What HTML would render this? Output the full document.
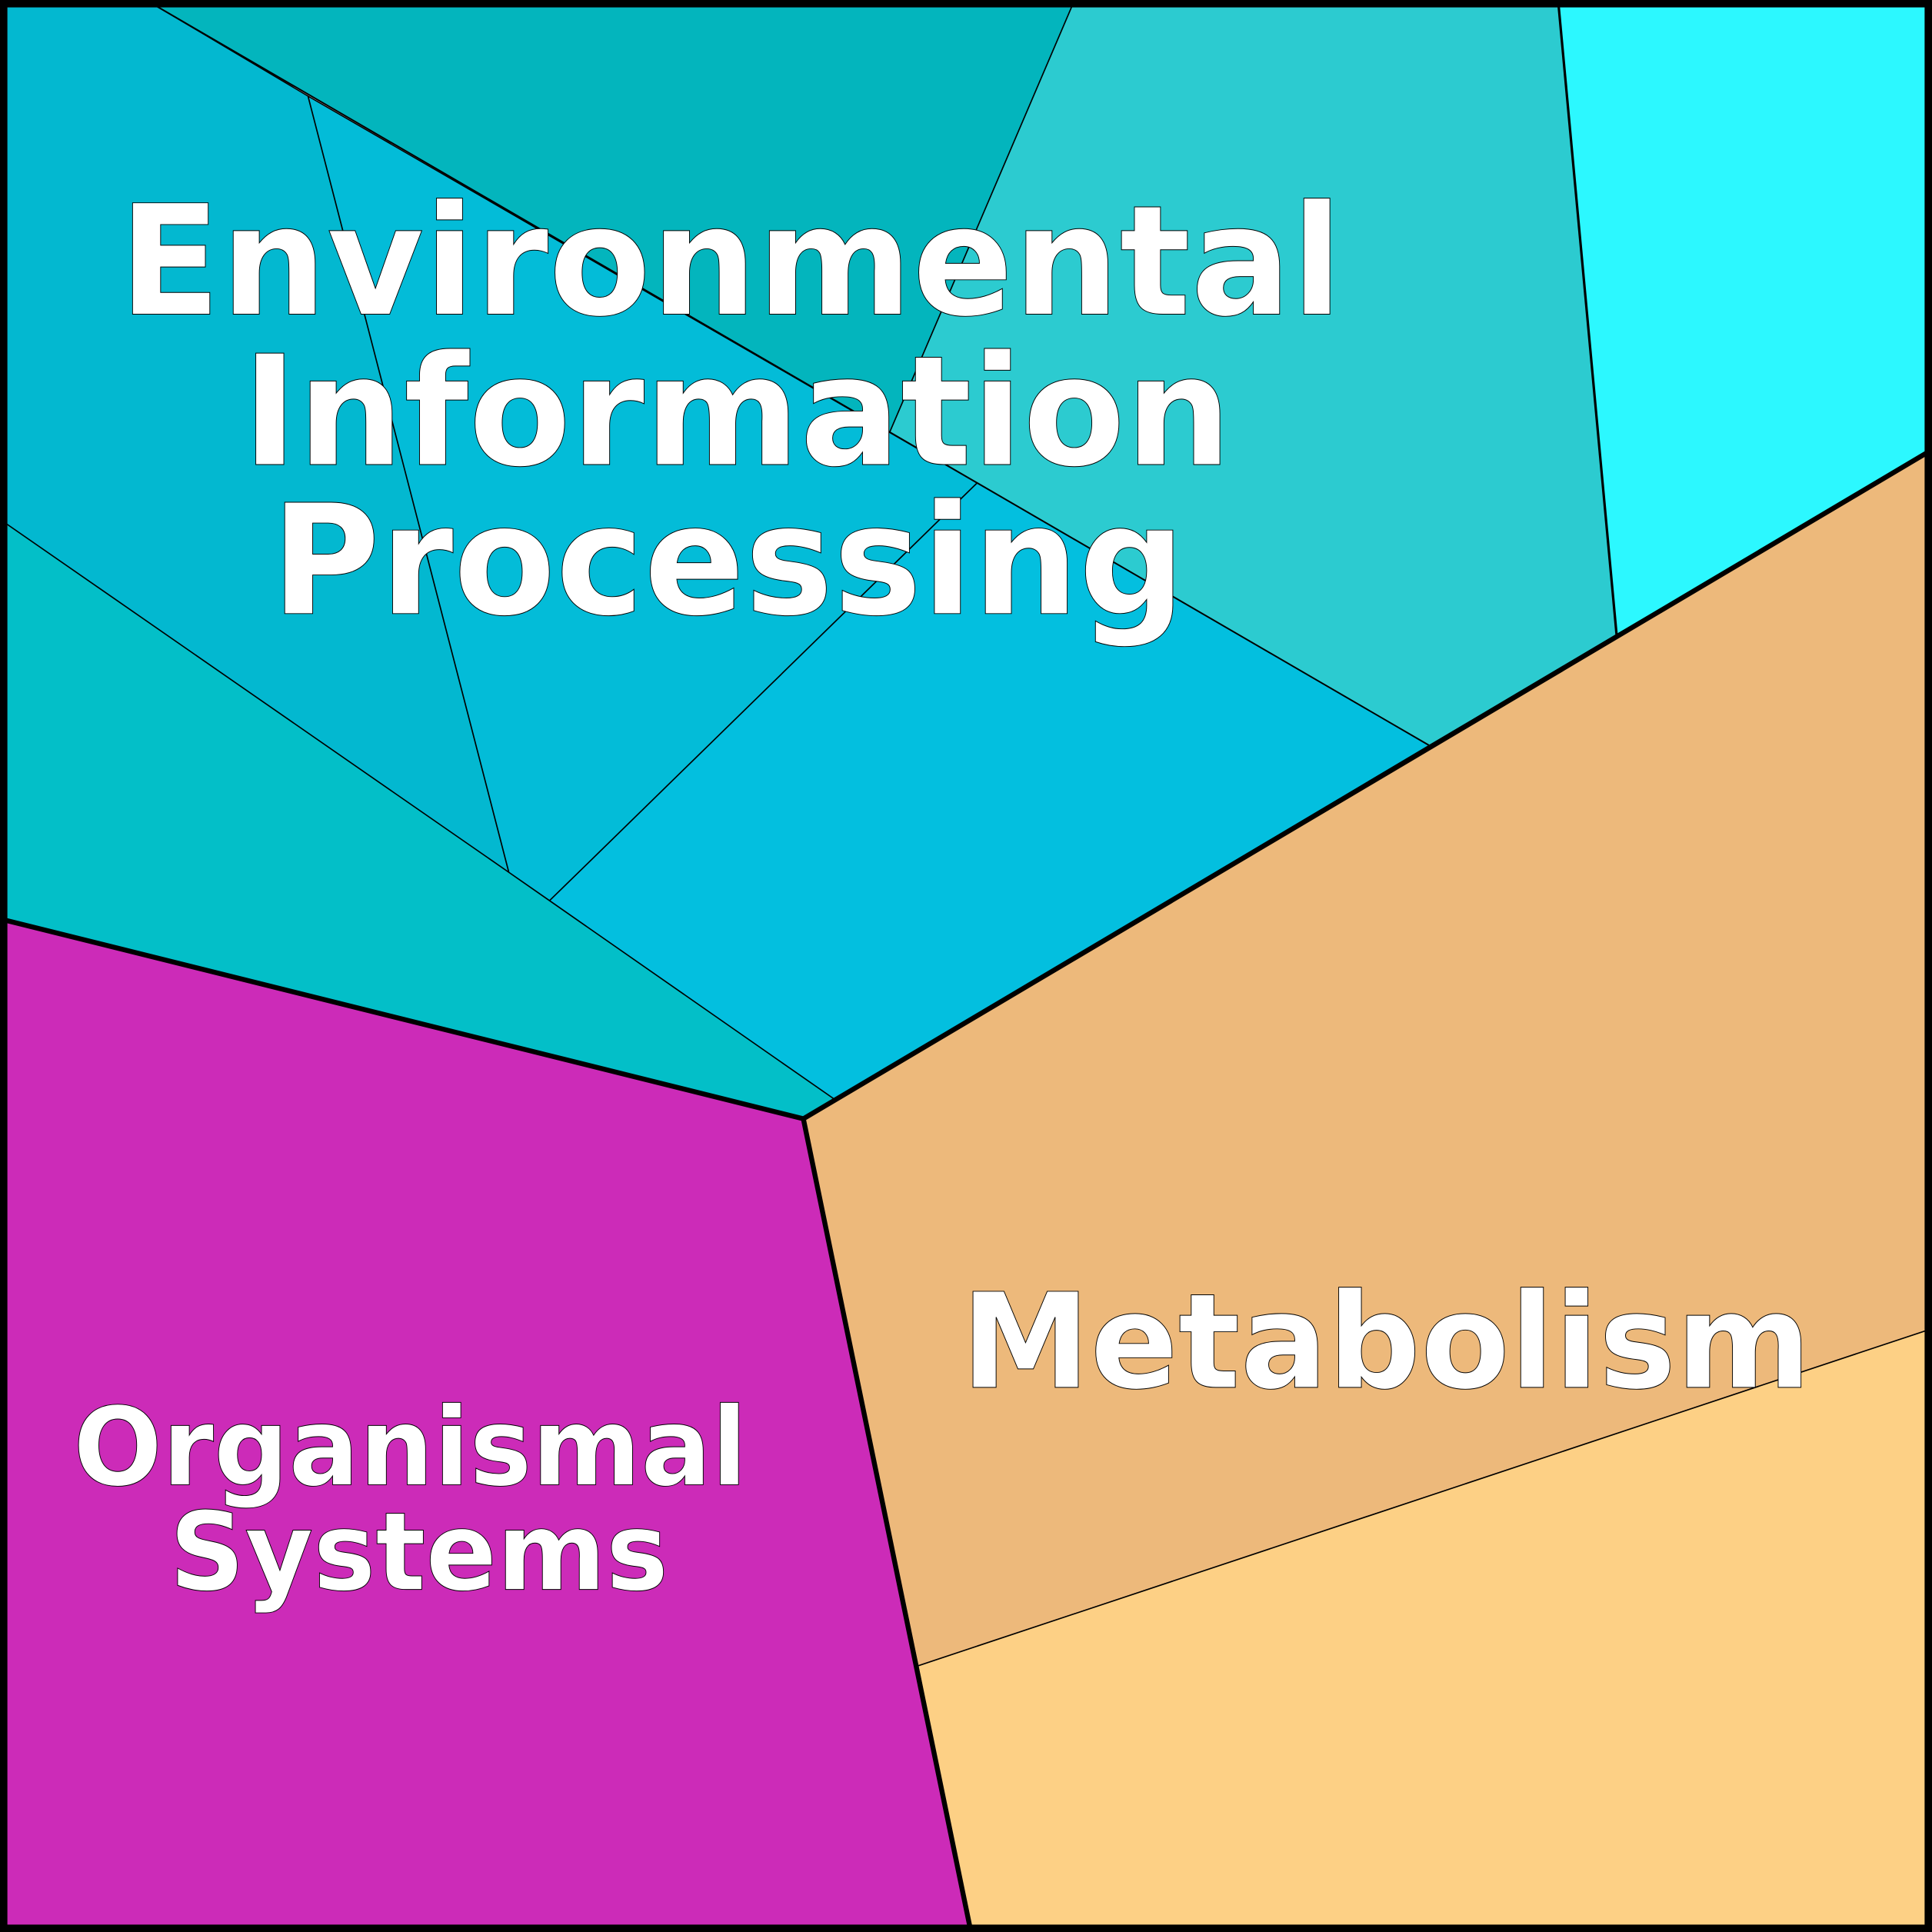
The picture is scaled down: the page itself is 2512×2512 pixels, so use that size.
<!DOCTYPE html>
<html><head><style>html,body{margin:0;padding:0;background:#fff}svg{display:block}</style></head>
<body>
<svg width="2512" height="2512" viewBox="0 0 1568 1568" xmlns="http://www.w3.org/2000/svg">
<g stroke="#000" stroke-width="1" stroke-linejoin="round">
<polygon points="5,5 127,5 250,78 413,708 5,425" fill="#03b8d0"/>
<polygon points="127,5 870,5 722,351" fill="#03b5bd"/>
<polygon points="870,5 1265,5 1312,515 1160,605 722,351" fill="#2ccbd0"/>
<polygon points="1265,5 1563,5 1563,368 1312,515" fill="#2cf8ff"/>
<polygon points="250,78 793,392 446,731 413,708" fill="#03bcd8"/>
<polygon points="793,392 1160,605 677,892 446,731" fill="#03bfdf"/>
<polygon points="5,425 413,708 446,731 677,892 652,908 5,747" fill="#03bfc8"/>
<polygon points="5,747 652,908 787,1563 5,1563" fill="#cc2bb8"/>
<polygon points="652,908 1563,368 1563,1080 745,1352" fill="#edb97b"/>
<polygon points="745,1352 1563,1080 1563,1563 787,1563" fill="#fdd085"/>
</g>
<g fill="none" stroke="#000">
<line x1="127" y1="5" x2="1160" y2="605" stroke-width="1.2"/>
<line x1="1265" y1="5" x2="1312" y2="515" stroke-width="2"/>
<polyline points="5,747 652,908 787,1563" stroke-width="4"/>
<line x1="652" y1="908" x2="1563" y2="368" stroke-width="4"/>
<rect x="3" y="3" width="1562" height="1562" stroke-width="6"/>
</g>
<g font-family="'DejaVu Sans','Liberation Sans',sans-serif" font-weight="bold" fill="#fff" stroke="#000" stroke-width="0.6" text-anchor="middle">
<text x="593" y="255" font-size="124" textLength="993" lengthAdjust="spacingAndGlyphs">Environmental</text>
<text x="598" y="377" font-size="124" textLength="803" lengthAdjust="spacingAndGlyphs">Information</text>
<text x="591" y="498" font-size="124" textLength="742" lengthAdjust="spacingAndGlyphs">Processing</text>
<text x="1125" y="1126" font-size="107" textLength="690" lengthAdjust="spacingAndGlyphs">Metabolism</text>
<text x="333" y="1205" font-size="88" textLength="547" lengthAdjust="spacingAndGlyphs">Organismal</text>
<text x="340" y="1290" font-size="88" textLength="405" lengthAdjust="spacingAndGlyphs">Systems</text>
</g>
</svg>
</body></html>
